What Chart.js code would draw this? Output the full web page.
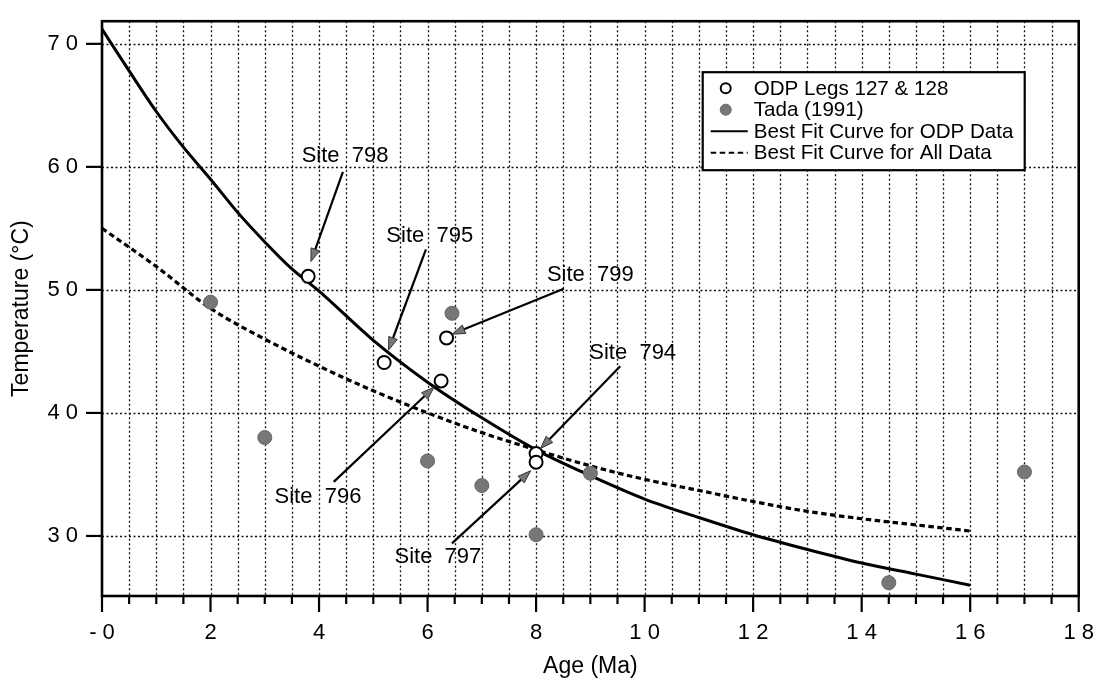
<!DOCTYPE html>
<html>
<head>
<meta charset="utf-8">
<script src="https://cdn.jsdelivr.net/npm/chart.js@4.4.1/dist/chart.umd.min.js"></script>
<style>
  html, body { margin: 0; padding: 0; background: #fff; }
</style>
</head>
<body>
<canvas id="chart" width="1102" height="678"></canvas>
<script>
// ODP Legs 127 & 128 (open circles)
const odpAge = [3.8, 5.2, 6.25, 6.35, 8.0, 8.0];
const odpTemp = [51.1, 44.1, 42.6, 46.1, 36.7, 36.0];

// Tada (1991) (grey dots)
const tadaAge = [2, 3, 6, 6.45, 7, 8, 9, 14.5, 17];
const tadaTemp = [49.0, 38.0, 36.1, 48.1, 34.1, 30.1, 35.1, 26.2, 35.2];

// best fit curve for ODP data
const fitOdpAge = [0, 0.5, 1, 1.5, 2, 2.5, 3, 3.5, 4, 5, 6, 7, 8, 9, 10, 11, 12, 13, 14, 15, 16];
const fitOdpTemp = [71.2, 67.8, 64.5, 61.6, 59.0, 56.3, 53.9, 51.7, 49.9, 45.9, 42.5, 39.6, 37.0, 34.9, 33.0, 31.5, 30.1, 28.9, 27.8, 26.9, 26.0];

// best fit curve for all data
const fitAllAge = [0, 1, 2, 3, 4, 5, 6, 7, 8, 9, 10, 11, 12, 13, 14, 15, 16];
const fitAllTemp = [55.0, 51.9, 48.5, 46.0, 43.8, 41.8, 40.0, 38.4, 37.0, 35.7, 34.6, 33.7, 32.8, 32.0, 31.4, 30.9, 30.4];

const xMajorTicks = [0, 2, 4, 6, 8, 10, 12, 14, 16, 18];
const xTickLabels = ['- 0', '2', '4', '6', '8', '1 0', '1 2', '1 4', '1 6', '1 8'];
const yTicks = [30, 40, 50, 60, 70];
const yTickLabels = ['3 0', '4 0', '5 0', '6 0', '7 0'];

const legendLabels = ['ODP Legs 127 & 128', 'Tada (1991)', 'Best Fit Curve for ODP Data', 'Best Fit Curve for All Data'];

// site callouts: label, label centre, arrow start, arrow tip (all in data units)
const siteNames = ['Site  798', 'Site  795', 'Site  799', 'Site  794', 'Site  796', 'Site  797'];
const siteLabelAt = [[4.48, 60.9], [6.04, 54.4], [9.0, 51.2], [9.78, 44.9], [3.98, 33.15], [6.19, 28.3]];
const siteArrowFrom = [[4.44, 59.6], [5.97, 53.3], [8.51, 50.1], [9.55, 43.8], [4.27, 34.4], [6.45, 29.4]];
const siteArrowTo = [[3.85, 52.3], [5.28, 45.1], [6.45, 46.4], [8.08, 37.1], [6.12, 42.1], [7.9, 35.3]];

const FONT = "'Liberation Sans', Arial, Helvetica, sans-serif";
Chart.defaults.font.family = FONT;
Chart.defaults.color = '#000';

const toXY = (xs, ys) => xs.map((x, i) => ({ x: x, y: ys[i] }));

function drawArrow(ctx, x0, y0, x1, y1) {
  const ang = Math.atan2(y1 - y0, x1 - x0);
  const len = 13, half = 4.5;
  const bx = x1 - len * Math.cos(ang);
  const by = y1 - len * Math.sin(ang);
  ctx.setLineDash([]);
  ctx.beginPath();
  ctx.moveTo(x0, y0);
  ctx.lineTo(bx, by);
  ctx.lineWidth = 2.2;
  ctx.strokeStyle = '#000';
  ctx.stroke();
  ctx.beginPath();
  ctx.moveTo(x1, y1);
  ctx.lineTo(bx - half * Math.sin(ang), by + half * Math.cos(ang));
  ctx.lineTo(bx + half * Math.sin(ang), by - half * Math.cos(ang));
  ctx.closePath();
  ctx.fillStyle = '#777';
  ctx.fill();
  ctx.lineWidth = 1;
  ctx.strokeStyle = '#333';
  ctx.stroke();
}

const gridPlugin = {
  id: 'gridPlugin',
  beforeDatasetsDraw(chart) {
    const { ctx, chartArea: a, scales: { x, y } } = chart;
    ctx.save();
    ctx.strokeStyle = '#111';
    ctx.lineWidth = 1.3;
    ctx.setLineDash([2, 2.5]);
    for (let v = 0.5; v < 18; v += 0.5) {
      const px = Math.round(x.getPixelForValue(v)) + 0.5;
      ctx.beginPath();
      ctx.moveTo(px, a.top);
      ctx.lineTo(px, a.bottom);
      ctx.stroke();
    }
    yTicks.forEach(v => {
      const py = Math.round(y.getPixelForValue(v)) + 0.5;
      ctx.beginPath();
      ctx.moveTo(a.left, py);
      ctx.lineTo(a.right, py);
      ctx.stroke();
    });
    ctx.restore();
  },
  afterDatasetsDraw(chart) {
    const { ctx, chartArea: a, scales: { x, y } } = chart;
    ctx.save();
    ctx.setLineDash([]);
    ctx.strokeStyle = '#000';
    // tick marks
    ctx.lineWidth = 2.2;
    for (let v = 0; v <= 18; v += 0.5) {
      const px = x.getPixelForValue(v);
      const len = v % 2 === 0 ? 16 : 8;
      ctx.beginPath();
      ctx.moveTo(px, a.bottom);
      ctx.lineTo(px, a.bottom + len);
      ctx.stroke();
    }
    yTicks.forEach(v => {
      const py = y.getPixelForValue(v);
      ctx.beginPath();
      ctx.moveTo(a.left - 16, py);
      ctx.lineTo(a.left, py);
      ctx.stroke();
    });
    // frame
    ctx.lineWidth = 2.6;
    ctx.strokeRect(a.left, a.top, a.right - a.left, a.bottom - a.top);

    // callouts
    siteNames.forEach((name, i) => {
      drawArrow(ctx,
        x.getPixelForValue(siteArrowFrom[i][0]), y.getPixelForValue(siteArrowFrom[i][1]),
        x.getPixelForValue(siteArrowTo[i][0]), y.getPixelForValue(siteArrowTo[i][1]));
      ctx.fillStyle = '#000';
      ctx.font = '22px ' + FONT;
      ctx.textAlign = 'center';
      ctx.textBaseline = 'middle';
      ctx.fillText(name, x.getPixelForValue(siteLabelAt[i][0]), y.getPixelForValue(siteLabelAt[i][1]));
    });

    // legend box
    const bx = a.right - 376, by = a.top + 51, bw = 322, bh = 98;
    ctx.fillStyle = '#fff';
    ctx.fillRect(bx, by, bw, bh);
    ctx.lineWidth = 2.2;
    ctx.strokeStyle = '#000';
    ctx.strokeRect(bx, by, bw, bh);
    const ds = chart.data.datasets;
    legendLabels.forEach((label, i) => {
      const ry = by + 16 + i * 21.5;
      const d = ds[i];
      if (i < 2) {
        ctx.beginPath();
        ctx.arc(bx + 23, ry, i === 0 ? 5 : 5.5, 0, Math.PI * 2);
        ctx.fillStyle = d.backgroundColor;
        ctx.fill();
        ctx.lineWidth = i === 0 ? 2 : 1;
        ctx.strokeStyle = d.borderColor;
        ctx.stroke();
      } else {
        ctx.beginPath();
        ctx.setLineDash(d.borderDash || []);
        ctx.moveTo(bx + 8, ry);
        ctx.lineTo(bx + 45, ry);
        ctx.lineWidth = 2;
        ctx.strokeStyle = d.borderColor;
        ctx.stroke();
        ctx.setLineDash([]);
      }
      ctx.fillStyle = '#000';
      ctx.font = '20.6px ' + FONT;
      ctx.textAlign = 'left';
      ctx.textBaseline = 'middle';
      ctx.fillText(label, bx + 51, ry + 1);
    });
    ctx.restore();
  }
};

new Chart(document.getElementById('chart'), {
  type: 'scatter',
  data: {
    datasets: [
      {
        label: legendLabels[0],
        data: toXY(odpAge, odpTemp),
        pointRadius: 6.5,
        pointBorderWidth: 2,
        borderColor: '#000',
        backgroundColor: '#fff',
        order: 1
      },
      {
        label: legendLabels[1],
        data: toXY(tadaAge, tadaTemp),
        pointRadius: 7,
        pointBorderWidth: 1,
        borderColor: '#666',
        backgroundColor: '#777',
        order: 1
      },
      {
        label: legendLabels[2],
        data: toXY(fitOdpAge, fitOdpTemp),
        showLine: true,
        pointRadius: 0,
        borderColor: '#000',
        borderWidth: 3,
        cubicInterpolationMode: 'monotone',
        order: 2
      },
      {
        label: legendLabels[3],
        data: toXY(fitAllAge, fitAllTemp),
        showLine: true,
        pointRadius: 0,
        borderColor: '#000',
        borderWidth: 3.2,
        borderDash: [5.5, 3.5],
        cubicInterpolationMode: 'monotone',
        order: 2
      }
    ]
  },
  options: {
    responsive: false,
    animation: false,
    devicePixelRatio: 1,
    layout: { padding: { top: 12, right: 22, left: 0, bottom: 0 } },
    plugins: {
      legend: { display: false },
      tooltip: { enabled: false }
    },
    scales: {
      x: {
        type: 'linear',
        min: 0,
        max: 18,
        afterBuildTicks: s => { s.ticks = xMajorTicks.map(v => ({ value: v })); },
        afterFit: s => { s.height = 82; },
        grid: { display: true, drawOnChartArea: false, drawTicks: true, tickLength: 16, tickColor: 'rgba(0,0,0,0)' },
        border: { display: false },
        ticks: {
          autoSkip: false,
          maxRotation: 0,
          padding: 8,
          color: '#000',
          font: { size: 22 },
          callback: v => xTickLabels[xMajorTicks.indexOf(v)]
        },
        title: {
          display: true,
          text: 'Age (Ma)',
          color: '#000',
          font: { size: 23, lineHeight: 1 },
          padding: { top: 0, bottom: 0 }
        }
      },
      y: {
        type: 'linear',
        min: 25.12,
        max: 71.84,
        afterBuildTicks: s => { s.ticks = yTicks.map(v => ({ value: v })); },
        afterFit: s => { s.width = 102; },
        grid: { display: true, drawOnChartArea: false, drawTicks: true, tickLength: 16, tickColor: 'rgba(0,0,0,0)' },
        border: { display: false },
        ticks: {
          padding: 8,
          color: '#000',
          font: { size: 22 },
          callback: v => yTickLabels[yTicks.indexOf(v)]
        },
        title: {
          display: true,
          text: 'Temperature (°C)',
          color: '#000',
          font: { size: 23, lineHeight: 1 },
          padding: { top: 10, bottom: 0 }
        }
      }
    }
  },
  plugins: [gridPlugin]
});
</script>
</body>
</html>
